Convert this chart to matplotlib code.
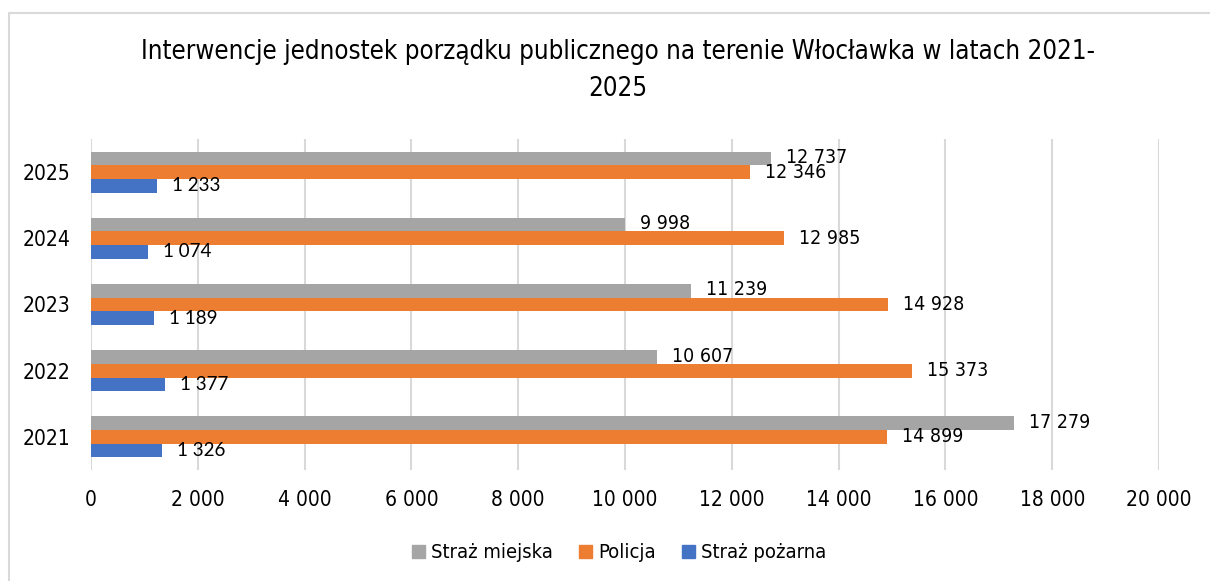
import numpy as np
import matplotlib.pyplot as plt
from matplotlib.lines import Line2D
from matplotlib.patches import Patch

years = ['2021', '2022', '2023', '2024', '2025']
straz_miejska = [17279, 10607, 11239, 9998, 12737]
policja = [14899, 15373, 14928, 12985, 12346]
straz_pozarna = [1326, 1377, 1189, 1074, 1233]

x_ticks = np.arange(0, 20001, 2000)

c_gray = '#A5A5A5'
c_orange = '#ED7D31'
c_blue = '#4472C4'
c_grid = '#D9D9D9'

plt.rcParams['font.family'] = ['DejaVu Sans']
plt.rcParams['font.stretch'] = 'condensed'


def fmt(v):
    return f"{v:,}".replace(',', ' ')


fig = plt.figure(figsize=(12.1, 5.81), dpi=100)
ax = fig.add_axes([91/1210, 1 - 470/581, 1068/1210, 331/581])

y = np.arange(len(years))
h = 0.2065

ax.barh(y + h, straz_miejska, height=h, color=c_gray, zorder=3)
ax.barh(y, policja, height=h, color=c_orange, zorder=3)
ax.barh(y - h, straz_pozarna, height=h, color=c_blue, zorder=3)

# value labels next to bar ends
for i in range(len(years)):
    ax.annotate(fmt(straz_miejska[i]), (straz_miejska[i], y[i] + h),
                xytext=(15, 1), textcoords='offset pixels',
                ha='left', va='center', fontsize=14, color='black', zorder=4)
    ax.annotate(fmt(policja[i]), (policja[i], y[i]),
                xytext=(15, 0), textcoords='offset pixels',
                ha='left', va='center', fontsize=14, color='black', zorder=4)
    ax.annotate(fmt(straz_pozarna[i]), (straz_pozarna[i], y[i] - h),
                xytext=(15, 0), textcoords='offset pixels',
                ha='left', va='center', fontsize=13.5, color='black',
                family=['Lato', 'DejaVu Sans'], stretch='normal', zorder=4)

ax.set_xlim(0, 20000)
ax.set_ylim(-0.5, len(years) - 0.5)
ax.set_xticks(x_ticks)
ax.set_xticklabels([fmt(v) for v in x_ticks])
ax.set_yticks(y)
ax.set_yticklabels(years)
ax.tick_params(axis='x', length=0, pad=14.4, labelsize=15)
ax.tick_params(axis='y', length=0, pad=15, labelsize=15)
ax.grid(axis='x', color=c_grid, linewidth=1.5, zorder=0)
for s in ax.spines.values():
    s.set_visible(False)

fig.text(618/1210, 1 - 52/581,
         'Interwencje jednostek porządku publicznego na terenie Włocławka w latach 2021-',
         ha='center', va='center', fontsize=18.5)
fig.text(618/1210, 1 - 89/581, '2025', ha='center', va='center', fontsize=18.5)

handles = [Patch(color=c_gray), Patch(color=c_orange), Patch(color=c_blue)]
fig.legend(handles, ['Straż miejska', 'Policja', 'Straż pożarna'],
           loc='center', bbox_to_anchor=(619/1210, 1 - 553/581), ncol=3,
           frameon=False, fontsize=14.5, handlelength=0.65, handleheight=0.65,
           handletextpad=0.3, columnspacing=1.3)

# chart frame (only the top and left edges fall inside the image)
fig.add_artist(Line2D([9/1210, 9/1210, 1.0], [0.0, 1 - 12.5/581, 1 - 12.5/581],
                      transform=fig.transFigure, color=c_grid, linewidth=1.5))

fig.savefig('out.png', dpi=100)
